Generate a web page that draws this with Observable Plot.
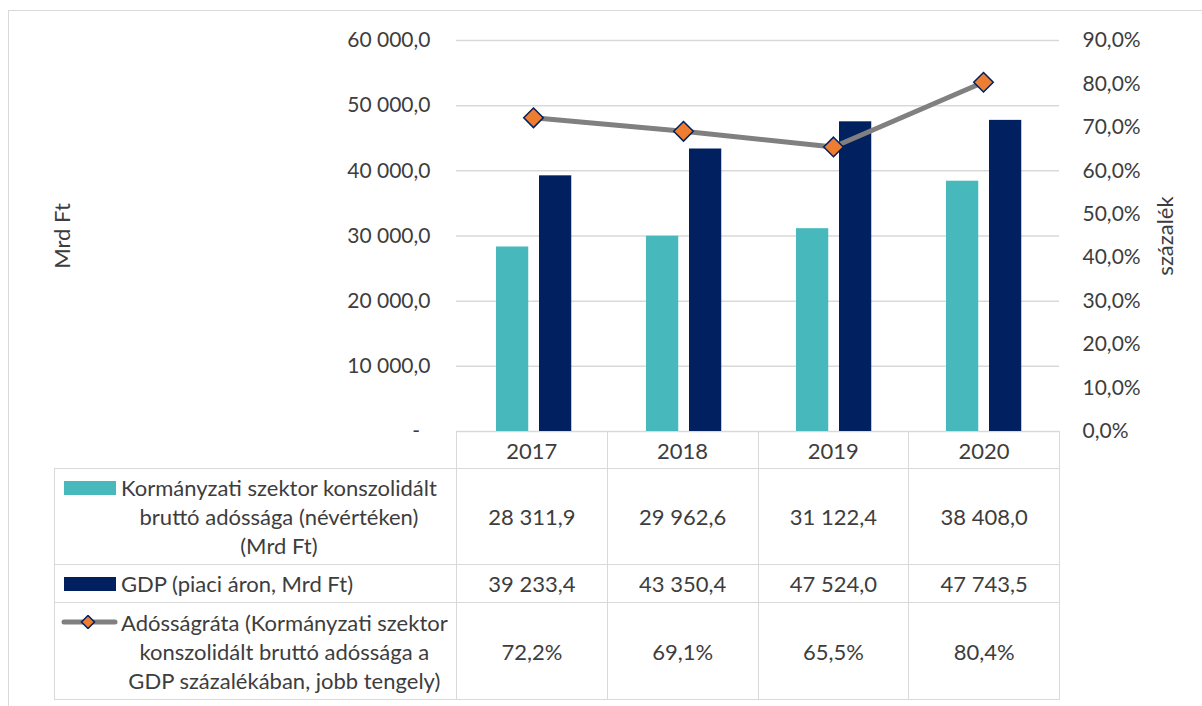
<!DOCTYPE html>
<html>
<head>
<meta charset="utf-8">
<script src="https://cdn.jsdelivr.net/npm/d3@7"></script>
<script src="https://cdn.jsdelivr.net/npm/@observablehq/plot@0.6"></script>
<style>
  html, body { margin: 0; padding: 0; background: #fff; }
  #wrap { position: relative; width: 1202px; height: 706px; overflow: hidden; background: #fff; font-family: Lato, "Open Sans", sans-serif; color: #3d3d3d; }
  #chart { position: absolute; left: 0; top: 0; }
  #frame { position: absolute; left: 8px; top: 10px; width: 1300px; height: 800px; border: 1.5px solid #d9d9d9; pointer-events: none; }
  #tbl { position: absolute; left: 54px; top: 431px; border-collapse: collapse; table-layout: fixed; font-size: 22px; color: #3d3d3d; }
  #tbl td { border: 1.5px solid #d9d9d9; padding: 0; text-align: center; vertical-align: middle; white-space: nowrap; }
  #tbl tr.head td.blank { border-top: none; border-left: none; }
  .labin { display: flex; align-items: flex-start; padding-left: 9px; }
  .sw { flex: none; width: 52px; height: 14px; margin-top: 7.5px; margin-right: 5px; }
  .txt { text-align: center; line-height: 29px; }
</style>
</head>
<body>
<div id="wrap">
  <div id="chart"></div>
  <table id="tbl"></table>
  <div id="frame"></div>
</div>
<script>
// ---- data ----
const years = ["2017", "2018", "2019", "2020"];
const debt = [28311.9, 29962.6, 31122.4, 38408.0];
const gdp = [39233.4, 43350.4, 47524.0, 47743.5];
const ratio = [72.2, 69.1, 65.5, 80.4];
const leftTicks = [0, 10000, 20000, 30000, 40000, 50000, 60000];
const rightTicks = [0, 10, 20, 30, 40, 50, 60, 70, 80, 90];
const leftLabel = "Mrd Ft";
const rightLabel = "százalék";
const seriesLines = [
  ["Kormányzati szektor konszolidált", "bruttó adóssága (névértéken)", "(Mrd Ft)"],
  ["GDP (piaci áron, Mrd Ft)"],
  ["Adósságráta (Kormányzati szektor", "konszolidált bruttó adóssága a", "GDP százalékában, jobb tengely)"]
];
const colors = {debt: "#47b9bc", gdp: "#002060", line: "#808080", marker: "#ed7d31"};

// ---- formatting ----
const loc = d3.formatLocale({decimal: ",", thousands: " ", grouping: [3], currency: ["", ""]});
const fNum = loc.format(",.1f");
const fPct = loc.format(".1f");
const leftMax = 60000, rightMax = 90;
const toLeft = p => p * leftMax / rightMax;

const debtData = years.map((y, i) => ({year: y, value: debt[i]}));
const gdpData = years.map((y, i) => ({year: y, value: gdp[i]}));
const ratioData = years.map((y, i) => ({year: y, value: ratio[i]}));

const chart = Plot.plot({
  width: 1202,
  height: 470,
  marginLeft: 456,
  marginRight: 143,
  marginTop: 40,
  marginBottom: 39,
  style: {fontFamily: "Lato, 'Open Sans', sans-serif", fontSize: "21px", color: "#3d3d3d", background: "white"},
  x: {type: "band", domain: years, padding: 0, axis: null},
  y: {domain: [0, leftMax], axis: null},
  marks: [
    Plot.ruleY(leftTicks, {stroke: "#d9d9d9", strokeWidth: 1.5}),
    Plot.barY(debtData, {x: "year", y: "value", fill: colors.debt, insetLeft: 38, insetRight: 79.75}),
    Plot.barY(gdpData, {x: "year", y: "value", fill: colors.gdp, insetLeft: 81, insetRight: 36.75}),
    Plot.line(ratioData, {x: "year", y: d => toLeft(d.value), stroke: colors.line, strokeWidth: 5, strokeLinecap: "round", strokeLinejoin: "round"}),
    Plot.dot(ratioData, {x: "year", y: d => toLeft(d.value), symbol: "diamond2", r: 8.8, fill: colors.marker, stroke: colors.gdp, strokeWidth: 1.5}),
    Plot.axisY({anchor: "left", ticks: leftTicks, tickSize: 0, tickPadding: 26, label: null,
      tickFormat: d => d === 0 ? "-\u2002" : fNum(d)}),
    Plot.axisY({anchor: "right", ticks: rightTicks.map(toLeft), tickSize: 0, tickPadding: 23, label: null,
      tickFormat: d => fPct(d * rightMax / leftMax) + "%"}),
    Plot.text([leftLabel], {text: d => d, frameAnchor: "left", textAnchor: "middle", rotate: -90, dx: -394, fontSize: 22, fill: "#3d3d3d"}),
    Plot.text([rightLabel], {text: d => d, frameAnchor: "right", textAnchor: "middle", rotate: -90, dx: 106, fontSize: 22, fill: "#3d3d3d"})
  ]
});
document.getElementById("chart").appendChild(chart);

// ---- data table ----
const tbl = document.getElementById("tbl");
const colW = [402, 150.75, 150.75, 150.75, 150.75];
const cg = document.createElement("colgroup");
colW.forEach(w => { const c = document.createElement("col"); c.style.width = w + "px"; cg.appendChild(c); });
tbl.appendChild(cg);
tbl.style.width = colW.reduce((a, b) => a + b, 0) + "px";

const head = document.createElement("tr");
head.className = "head";
head.style.height = "37px";
head.innerHTML = `<td class="blank"></td>` + years.map(y => `<td>${y}</td>`).join("");
tbl.appendChild(head);

const lineSwatch = `<svg class="sw" width="57" height="14" viewBox="0 0 57 14" style="width:57px;margin-left:-3px;margin-right:3px">
  <line x1="3" y1="7" x2="54" y2="7" stroke="${colors.line}" stroke-width="5" stroke-linecap="round"/>
  <path d="M27,0.5 L33.5,7 L27,13.5 L20.5,7 Z" fill="${colors.marker}" stroke="${colors.gdp}" stroke-width="1.5"/>
</svg>`;
const swatches = [
  `<div class="sw" style="background:${colors.debt}"></div>`,
  `<div class="sw" style="background:${colors.gdp}"></div>`,
  lineSwatch
];
const rowVals = [debt.map(fNum), gdp.map(fNum), ratio.map(v => fPct(v) + "%")];
const rowH = [96, 38, 97];
rowVals.forEach((vals, i) => {
  const tr = document.createElement("tr");
  tr.style.height = rowH[i] + "px";
  tr.innerHTML = `<td><div class="labin">${swatches[i]}<div class="txt">${seriesLines[i].join("<br>")}</div></div></td>` +
    vals.map(v => `<td>${v}</td>`).join("");
  tbl.appendChild(tr);
});
</script>
</body>
</html>
